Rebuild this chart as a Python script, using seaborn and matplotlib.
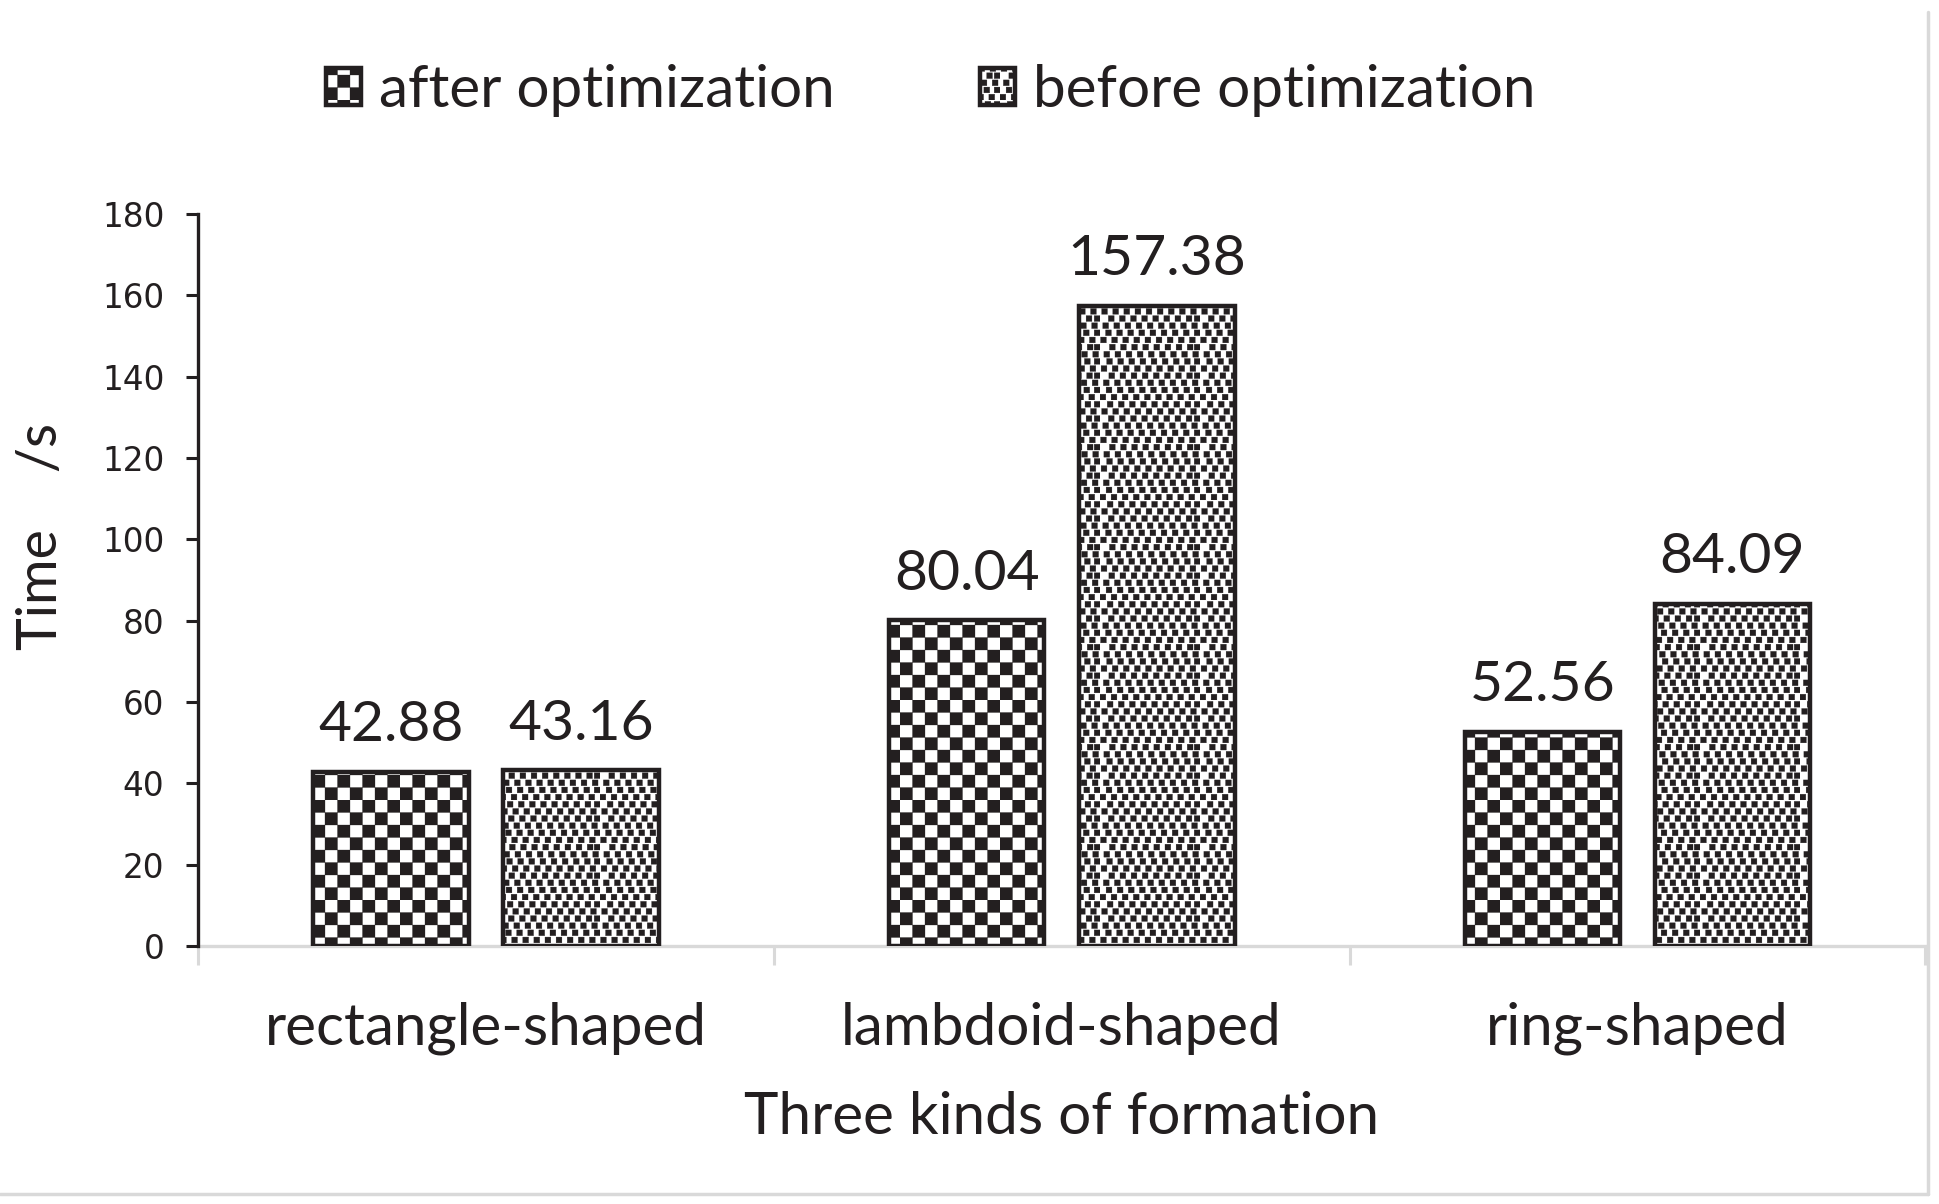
import warnings
warnings.filterwarnings("ignore")
import numpy as np
import pandas as pd
import matplotlib
matplotlib.use("Agg")
import matplotlib.pyplot as plt
from matplotlib import hatch as mhatch
from matplotlib.path import Path
from matplotlib.lines import Line2D
import seaborn as sns

# ---------------- data ----------------
categories = ["rectangle-shaped", "lambdoid-shaped", "ring-shaped"]
series_names = ["after optimization", "before optimization"]
after_values = [42.88, 80.04, 52.56]
before_values = [43.16, 157.38, 84.09]
y_ticks = [0, 20, 40, 60, 80, 100, 120, 140, 160, 180]
x_label = "Three kinds of formation"
y_label = "Time    /s"


# ---------------- custom fill patterns (checkerboard / confetti) ----------------
class CheckerHatch(mhatch.HatchPatternBase):
    def __init__(self, hatch, density):
        self.n = 8 if hatch.count('x') else 0
        self.num_vertices = (self.n * self.n // 2) * 5

    def set_vertices_and_codes(self, vertices, codes):
        s = 1.0 / self.n
        k = 0
        for i in range(self.n):
            for j in range(self.n):
                if (i + j) % 2 == 0:
                    x0, y0 = i * s, j * s
                    vertices[k:k + 5] = [[x0, y0], [x0 + s, y0], [x0 + s, y0 + s],
                                         [x0, y0 + s], [x0, y0]]
                    codes[k:k + 5] = [Path.MOVETO, Path.LINETO, Path.LINETO,
                                      Path.LINETO, Path.CLOSEPOLY]
                    k += 5


class ConfettiHatch(mhatch.HatchPatternBase):
    def __init__(self, hatch, density):
        on = hatch.count('o')
        self.rows = 14 if on else 0
        self.cols = 9 if on else 0
        self.num_vertices = self.rows * self.cols * 5

    def set_vertices_and_codes(self, vertices, codes):
        dy = 1.0 / self.rows
        dx = 1.0 / self.cols
        sz = 0.058
        shifts = [0.0, 0.55, 0.3, 0.8, 0.1, 0.6, 0.35, 0.85, 0.05, 0.5, 0.25, 0.75, 0.15, 0.65]
        k = 0
        for r in range(self.rows):
            for c in range(self.cols):
                x0 = (c + shifts[r % len(shifts)]) * dx
                x0 = x0 % 1.0
                if x0 + sz > 1.0:
                    x0 = 1.0 - sz
                y0 = r * dy
                vertices[k:k + 5] = [[x0, y0], [x0 + sz, y0], [x0 + sz, y0 + sz],
                                     [x0, y0 + sz], [x0, y0]]
                codes[k:k + 5] = [Path.MOVETO, Path.LINETO, Path.LINETO,
                                  Path.LINETO, Path.CLOSEPOLY]
                k += 5


mhatch._hatch_types[:] = [CheckerHatch, ConfettiHatch]

# ---------------- style ----------------
sns.set_theme(style="white")
plt.rcParams['font.family'] = ['Lato', 'DejaVu Sans']
plt.rcParams['hatch.linewidth'] = 0.2
plt.rcParams['hatch.color'] = 'black'

df = pd.DataFrame({
    "formation": categories * 2,
    "series": [series_names[0]] * 3 + [series_names[1]] * 3,
    "time": after_values + before_values,
})

fig = plt.figure(figsize=(19.39, 12.04), dpi=100)
ax = fig.add_axes([0.102, 0.2143, 0.891, 0.608])

sns.barplot(data=df, x="formation", y="time", hue="series",
            hue_order=series_names, order=categories,
            width=0.66, gap=0.18, palette=["white", "white"],
            edgecolor="#231f20", linewidth=3.2, saturation=1,
            errorbar=None, legend=False, ax=ax)

hatches = ['x', 'o']
for cont, h in zip(ax.containers, hatches):
    for p in cont.patches:
        p.set_hatch(h)
        p.set_facecolor('white')
        p.set_edgecolor('#231f20')
    ax.bar_label(cont, fmt='%.2f', padding=15, fontsize=41, color='#231f20',
                 family=['Lato', 'DejaVu Sans'])

ax.set_xlim(-0.5, 2.5)
ax.set_ylim(0, 180)
ax.set_yticks(y_ticks)
ax.set_yticklabels([str(v) for v in y_ticks], fontsize=23.5,
                   family=['DejaVu Sans'], color='#231f20')
ax.set_xticks(range(len(categories)))
ax.set_xticklabels(categories, fontsize=42, color='#231f20')
ax.set_xticks([-0.5, 0.5, 1.5, 2.5], minor=True)
ax.tick_params(axis='x', which='major', length=0, pad=40)
ax.tick_params(axis='x', which='minor', length=14, width=2.2, color='#d9d9d9',
               direction='out', bottom=True)
ax.tick_params(axis='y', which='major', length=9, width=2.2, color='#231f20',
               direction='out', left=True, pad=15)

for side in ['top', 'right']:
    ax.spines[side].set_visible(False)
ax.spines['left'].set_color('#231f20')
ax.spines['left'].set_linewidth(2.4)
ax.spines['bottom'].set_color('#d9d9d9')
ax.spines['bottom'].set_linewidth(2.4)
ax.spines['bottom'].set_zorder(0.5)

ax.set_xlabel(x_label, fontsize=42, color='#231f20', labelpad=26)
ax.set_ylabel(y_label, fontsize=40, color='#231f20', labelpad=25)
ax.yaxis.label.set_y(0.56)

leg = fig.legend(ax.containers, series_names, loc='center',
                 bbox_to_anchor=(0.48, 0.925), ncol=2, frameon=False,
                 fontsize=42, handlelength=0.6, handleheight=0.6,
                 handletextpad=0.3, columnspacing=2.5, labelcolor='#231f20')

# figure border lines (right & bottom)
fig.add_artist(Line2D([0.9943, 0.9943], [0.0085, 0.99], transform=fig.transFigure,
                      color='#d9d9d9', lw=2.5))
fig.add_artist(Line2D([0.0, 0.9943], [0.0085, 0.0085], transform=fig.transFigure,
                      color='#d9d9d9', lw=2.5))

fig.savefig("out.png", dpi=100)
